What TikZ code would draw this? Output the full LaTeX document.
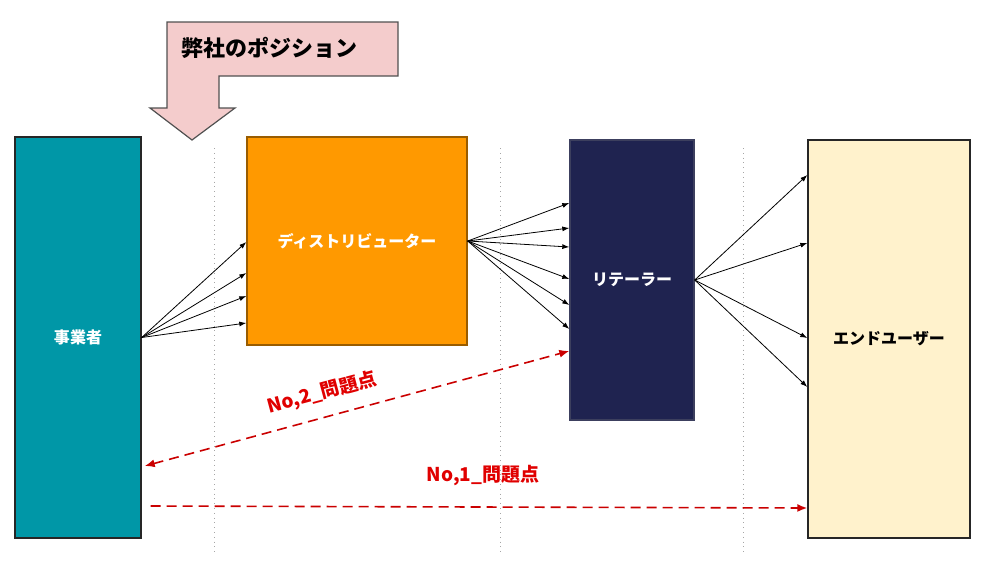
\documentclass[tikz,border=0pt]{standalone}
\usepackage{fontspec}
\setmainfont{Noto Sans CJK JP}
\usetikzlibrary{arrows.meta,calc}
\definecolor{biz}{HTML}{0097A7}
\definecolor{dist}{HTML}{FF9900}
\definecolor{ret}{HTML}{1F2350}
\definecolor{enduser}{HTML}{FFF2CC}
\definecolor{callout}{HTML}{F4CCCC}
\definecolor{ink}{HTML}{262626}
\definecolor{alert}{HTML}{E00000}
\tikzset{
  >=Latex,
  every node/.style={font=\bfseries\fontsize{8pt}{10pt}\selectfont},
  box/.style={draw=ink,line width=0.7pt,inner sep=0pt},
  bizbox/.style={box,fill=biz,text=white},
  distbox/.style={box,fill=dist,draw=dist!60!black,text=white},
  retbox/.style={box,fill=ret,draw=ret!70!gray,text=white},
  endbox/.style={box,fill=enduser,text=black},
  fan/.style={->,line width=0.4pt,draw=black,>={Latex[length=3.5pt,width=2.5pt]}},
  issue/.style={line width=0.8pt,draw=alert!90!black,dash pattern=on 5pt off 3pt,>={Latex[length=5pt,width=4pt]}},
  issuelabel/.style={text=alert,inner sep=1pt,font=\bfseries\fontsize{9.5pt}{11pt}\selectfont},
  divider/.style={gray!70,line width=0.4pt,dotted},
}
\begin{document}
\begin{tikzpicture}[x=0.5pt,y=-0.5pt]
\useasboundingbox (0,0) rectangle (1000,562);
% dividers
\foreach \x in {214,500,743}
  \draw[divider] (\x,148) -- (\x,552);
% callout
\draw[fill=callout,draw=ink!80,line width=0.6pt]
  (167,22) -- (398,22) -- (398,76) -- (219,76) -- (219,108) -- (235,108)
  -- (192,140) -- (150,108) -- (167,108) -- cycle;
\node[font=\bfseries\fontsize{11pt}{13pt}\selectfont] (pos) at (269,48) {弊社のポジション};
% boxes
\node[bizbox,minimum width=63pt,minimum height=200.5pt] (biz) at (78,337.5) {事業者};
\node[distbox,minimum width=110pt,minimum height=104pt] (dist) at (357,241) {ディストリビューター};
\node[retbox,minimum width=62pt,minimum height=140pt] (ret) at (632,280) {リテーラー};
\node[endbox,minimum width=81pt,minimum height=199pt] (end) at (889,339) {エンドユーザー};
% fans
\foreach \y in {242,273,296,323}
  \draw[fan] (biz.east) -- (dist.west |- 0,\y);
\foreach \y in {203,228,247,279,305,329}
  \draw[fan] (dist.east) -- (ret.west |- 0,\y);
\foreach \y in {175,243,338,387}
  \draw[fan] (ret.east) -- (end.west |- 0,\y);
% issues
\draw[issue,<->] ($(biz.east |- 0,466)+(3,0)$) -- (ret.west |- 0,351);
\node[issuelabel,rotate=15] (no2) at (322,393) {No,2\_問題点};
\draw[issue,->] ($(biz.east |- 0,506)+(9,0)$) -- (end.west |- 0,508);
\node[issuelabel] (no1) at (483,476) {No,1\_問題点};
\end{tikzpicture}
\end{document}
